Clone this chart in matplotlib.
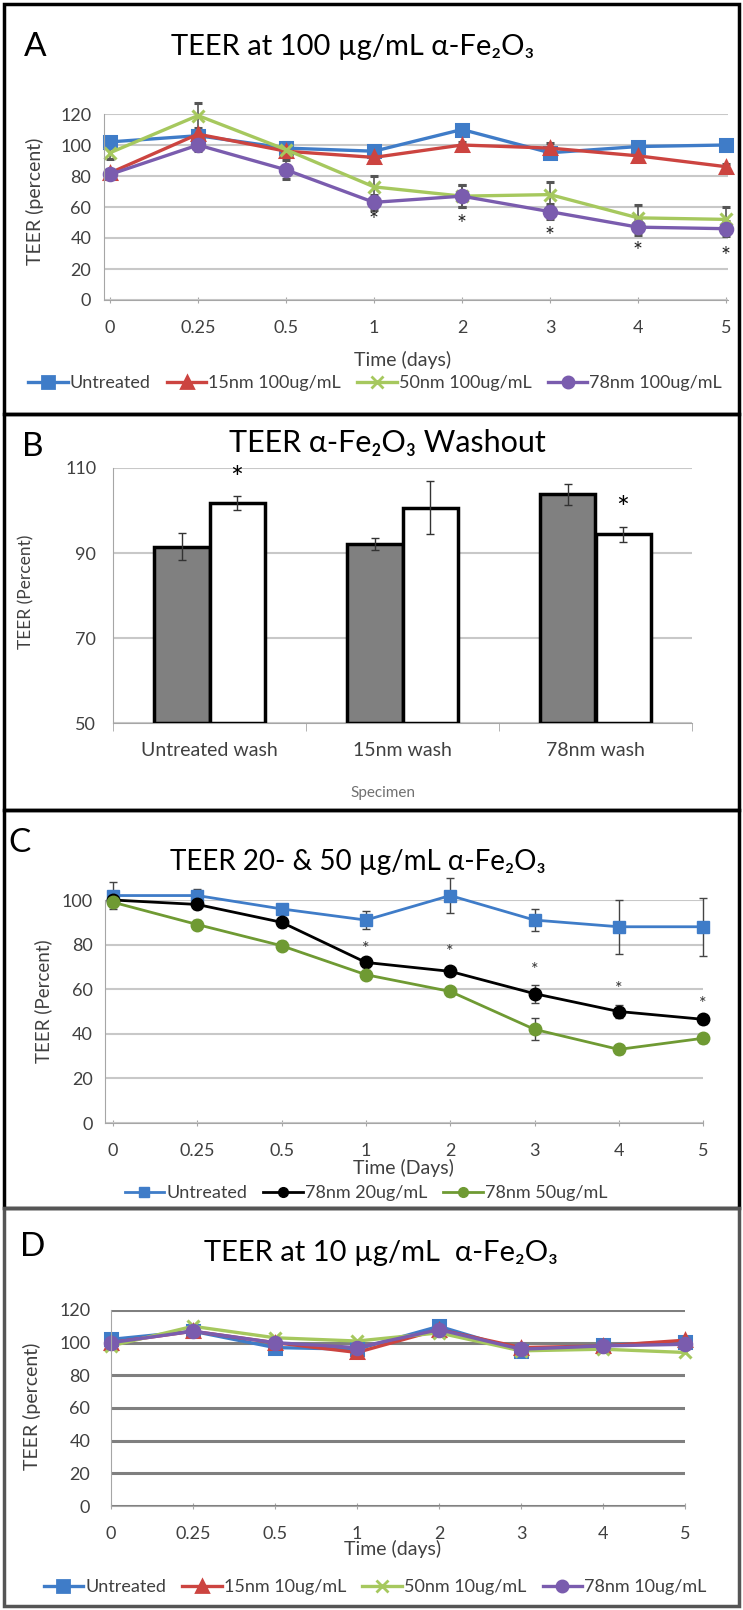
import numpy as np
import matplotlib
matplotlib.use("Agg")
import matplotlib.pyplot as plt
from matplotlib.patches import Rectangle
from matplotlib.lines import Line2D

plt.rcParams['font.family'] = ['Lato', 'DejaVu Sans']

W, H = 743, 1610

days = ["0", "0.25", "0.5", "1", "2", "3", "4", "5"]

# A: 100 ug/mL
a_untreated = [102, 106, 98, 96, 110, 95, 99, 100]
a_15nm = [82, 107, 96, 92, 100, 98, 93, 86]
a_50nm = [95, 119, 97, 73, 67, 68, 53, 52]
a_78nm = [81, 100, 84, 63, 67, 57, 47, 46]
a_untreated_err = [2, 3, 3, 3, 3, 3, 2, 2]
a_15nm_err = [2, 3, 3, 3, 2, 3, 3, 2]
a_50nm_err = [4, 8, 5, 7, 7, 8, 8, 8]
a_78nm_err = [3, 4, 6, 5, 7, 5, 5, 5]
a_star_days = ["1", "2", "3", "4", "5"]
a_star_y = [51, 49, 41, 31, 28]

# B: washout
b_groups = ["Untreated wash", "15nm wash", "78nm wash"]
b_before = [91.5, 92.1, 103.8]
b_before_err = [3.1, 1.5, 2.5]
b_after = [101.7, 100.7, 94.4]
b_after_err = [1.7, 6.2, 1.8]
b_star_groups = ["Untreated wash", "78nm wash"]
b_star_y = [107.3, 100.3]

# C: 20 and 50 ug/mL
c_untreated = [102, 102, 96, 91, 102, 91, 88, 88]
c_untreated_err = [6, 3, 2, 4, 8, 5, 12, 13]
c_20 = [100, 98, 90, 72, 68, 58, 50, 46.5]
c_20_err = [2, 2, 2, 2, 2, 4, 3, 2]
c_50 = [99, 89, 79.5, 66.5, 59, 42, 33, 38]
c_50_err = [2, 2, 2, 2, 2, 5, 2, 2]
c_star_days = ["1", "2", "3", "4", "5"]
c_star_y = [78, 76.5, 68.5, 60, 53.5]

# D: 10 ug/mL
d_untreated = [102, 107, 97, 96, 110, 95, 98.5, 100.5]
d_15nm = [100, 107, 100, 94, 108, 97, 98, 101.5]
d_50nm = [98, 110, 103, 101, 106, 95, 96, 94]
d_78nm = [100, 107, 100, 97, 108, 96, 98, 99]

BLUE = "#3f7cc8"
RED = "#cc4440"
LGREEN = "#a6c85e"
PURPLE = "#7a5cae"
OLIVE = "#6f9a33"
TICKC = "#404040"

fig = plt.figure(figsize=(W / 100, H / 100), dpi=100)


def px_axes(left, top, right, bottom):
    return fig.add_axes([left / W, 1 - bottom / H, (right - left) / W, (bottom - top) / H])


def ftext(x, y, s, **kw):
    kw.setdefault("ha", "center")
    kw.setdefault("va", "center")
    fig.text(x / W, 1 - y / H, s, **kw)


def style_line_axes(ax, gridc="#c8c8c8", gridlw=1.5, pad_x=12, pad_y=9):
    for s in ["top", "right"]:
        ax.spines[s].set_visible(False)
    ax.spines["left"].set_color("#a6a6a6")
    ax.spines["bottom"].set_color("#a6a6a6")
    ax.yaxis.grid(True, color=gridc, lw=gridlw)
    ax.set_axisbelow(True)
    ax.tick_params(axis="x", length=5, direction="inout", color="#a6a6a6",
                   labelsize=13, labelcolor=TICKC, pad=pad_x)
    ax.tick_params(axis="y", length=0, labelsize=13, labelcolor=TICKC, pad=pad_y)


def border(top, bottom, color="black"):
    fig.add_artist(Rectangle((4 / W, 1 - bottom / H), 735 / W, (bottom - top) / H,
                             transform=fig.transFigure, fill=False, lw=2.5, ec=color))


x = np.arange(len(days))

# ---------------- A ----------------
axA = px_axes(110 - 0.07 * 88, 114, 110 + 7.02 * 88, 300)
series_a = [(a_untreated, a_untreated_err, BLUE, "s", "Untreated"),
            (a_15nm, a_15nm_err, RED, "^", "15nm 100ug/mL"),
            (a_50nm, a_50nm_err, LGREEN, "x", "50nm 100ug/mL"),
            (a_78nm, a_78nm_err, PURPLE, "o", "78nm 100ug/mL")]
for vals, err, c, m, lab in series_a:
    axA.errorbar(x, vals, yerr=err, color=c, marker=m, ms=9, mew=2.2, lw=2.4,
                 elinewidth=1.2, ecolor="#555555", capsize=3, label=lab, clip_on=False)
for d, yv in zip(a_star_days, a_star_y):
    axA.text(days.index(d), yv, "*", ha="center", va="center", fontsize=17, color="#222222")
axA.set_xlim(-0.07, 7.02)
axA.set_ylim(0, 120)
axA.set_yticks(range(0, 121, 20))
axA.set_xticks(x)
axA.set_xticklabels(days)
style_line_axes(axA)
ftext(35, 47, "A", fontsize=24)
ftext(353, 47, "TEER at 100 µg/mL α-Fe₂O₃", fontsize=21)
ftext(35, 201, "TEER (percent)", fontsize=14, rotation=90, color=TICKC)
ftext(403, 360, "Time (days)", fontsize=14, color=TICKC)
hA = [Line2D([], [], color=s[2], marker=s[3], ms=8, mew=2, lw=2.4) for s in series_a]
fig.legend(hA, [s[4] for s in series_a], loc="center",
           bbox_to_anchor=(375 / W, 1 - 383 / H), ncol=4,
           frameon=False, fontsize=13, handlelength=2.2, handletextpad=0.1,
           columnspacing=0.9, labelcolor=TICKC)
border(4, 414)

# ---------------- B ----------------
axB = px_axes(113, 468, 692, 723)
xb = np.arange(len(b_groups))
bw = 0.285
axB.bar(xb - bw / 2, np.array(b_before) - 50, bw, bottom=50, color="#808080",
        edgecolor="black", lw=2.5, zorder=3)
axB.bar(xb + bw / 2, np.array(b_after) - 50, bw, bottom=50, color="white",
        edgecolor="black", lw=2.5, zorder=3)
axB.errorbar(xb - bw / 2, b_before, yerr=b_before_err, fmt="none", ecolor="#333333",
             elinewidth=1, capsize=3, zorder=4)
axB.errorbar(xb + bw / 2, b_after, yerr=b_after_err, fmt="none", ecolor="#333333",
             elinewidth=1, capsize=3, zorder=4)
for g, yv in zip(b_star_groups, b_star_y):
    axB.text(b_groups.index(g) + bw / 2, yv, "*", ha="center", va="center",
             fontsize=22, color="black")
axB.set_xlim(-0.5, 2.5)
axB.set_ylim(50, 110)
axB.set_yticks([50, 70, 90, 110])
axB.set_xticks(xb)
axB.set_xticklabels(b_groups)
axB.set_xticks(np.arange(-0.5, 2.6, 1), minor=True)
for s in ["top", "right"]:
    axB.spines[s].set_visible(False)
axB.spines["left"].set_color("#a6a6a6")
axB.spines["bottom"].set_color("#a6a6a6")
axB.yaxis.grid(True, color="#c8c8c8", lw=1.5)
axB.set_axisbelow(True)
axB.tick_params(axis="x", which="major", length=0, labelsize=14, labelcolor=TICKC, pad=14)
axB.tick_params(axis="x", which="minor", length=6, color="#a6a6a6")
axB.tick_params(axis="y", length=0, labelsize=13, labelcolor=TICKC, pad=12)
ftext(33, 447, "B", fontsize=24)
ftext(387, 443, "TEER α-Fe₂O₃ Washout", fontsize=22)
ftext(26, 592, "TEER (Percent)", fontsize=12.5, rotation=90, color=TICKC)
ftext(383, 793, "Specimen", fontsize=11, color="#707070")
border(414, 810)

# ---------------- C ----------------
axC = px_axes(113 - 0.09 * 84.3, 900, 113 + 7.0 * 84.3, 1123)
series_c = [(c_untreated, c_untreated_err, BLUE, "s", "Untreated"),
            (c_20, c_20_err, "black", "o", "78nm 20ug/mL"),
            (c_50, c_50_err, OLIVE, "o", "78nm 50ug/mL")]
for vals, err, c, m, lab in series_c:
    axC.errorbar(x, vals, yerr=err, color=c, marker=m, ms=9, lw=2.0,
                 elinewidth=1.0, ecolor="#444444", capsize=3, label=lab, clip_on=False)
for d, yv in zip(c_star_days, c_star_y):
    axC.text(days.index(d), yv, "*", ha="center", va="center", fontsize=13, color="#333333")
axC.set_xlim(-0.09, 7.0)
axC.set_ylim(0, 100)
axC.set_yticks(range(0, 101, 20))
axC.set_xticks(x)
axC.set_xticklabels(days)
style_line_axes(axC, pad_x=12, pad_y=9)
ftext(20, 843, "C", fontsize=24)
ftext(358, 862, "TEER 20- & 50 µg/mL α-Fe₂O₃", fontsize=20)
ftext(43, 1001, "TEER (Percent)", fontsize=13.5, rotation=90, color=TICKC)
ftext(403, 1168, "Time (Days)", fontsize=14, color=TICKC)
hC = [Line2D([], [], color=s[2], marker=s[3], ms=7, lw=2) for s in series_c]
fig.legend(hC, [s[4] for s in series_c], loc="center",
           bbox_to_anchor=(366 / W, 1 - 1193 / H), ncol=3, frameon=False, fontsize=13,
           handlelength=2.2, handletextpad=0.1, columnspacing=0.9, labelcolor=TICKC)
border(810, 1208)

# ---------------- D ----------------
axD = px_axes(111, 1310, 685, 1506)
series_d = [(d_untreated, BLUE, "s", "Untreated"),
            (d_15nm, RED, "^", "15nm 10ug/mL"),
            (d_50nm, LGREEN, "x", "50nm 10ug/mL"),
            (d_78nm, PURPLE, "o", "78nm 10ug/mL")]
for vals, c, m, lab in series_d:
    axD.plot(x, vals, color=c, marker=m, ms=9, mew=2.2, lw=2.4, label=lab, clip_on=False)
axD.set_xlim(0, 7)
axD.set_ylim(0, 120)
axD.set_yticks(range(0, 121, 20))
axD.set_xticks(x)
axD.set_xticklabels(days)
style_line_axes(axD, gridc="#7f7f7f", gridlw=2.2, pad_x=12, pad_y=15)
ftext(33, 1247, "D", fontsize=24)
ftext(381, 1253, "TEER at 10 µg/mL  α-Fe₂O₃", fontsize=21)
ftext(32, 1406, "TEER (percent)", fontsize=14, rotation=90, color=TICKC)
ftext(393, 1549, "Time (days)", fontsize=14, color=TICKC)
hD = [Line2D([], [], color=s[1], marker=s[2], ms=8, mew=2, lw=2.4) for s in series_d]
fig.legend(hD, [s[3] for s in series_d], loc="center",
           bbox_to_anchor=(375 / W, 1 - 1587 / H), ncol=4, frameon=False, fontsize=13,
           handlelength=2.2, handletextpad=0.1, columnspacing=0.9, labelcolor=TICKC)
border(1208, 1606, color="#555555")

fig.savefig("out.png", dpi=100)
